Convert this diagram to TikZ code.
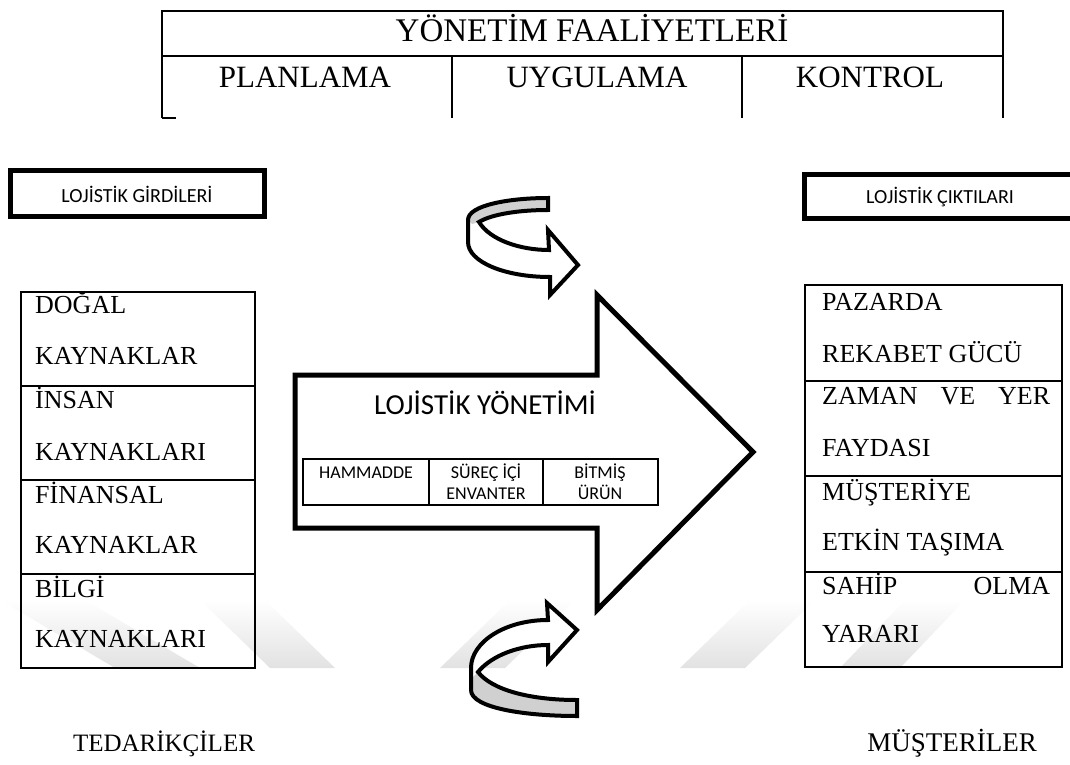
\documentclass[tikz,border=0pt]{standalone}
\usepackage{fontspec}
\setmainfont{Liberation Serif}
\newfontfamily\calibrifont{Carlito}
\usepackage{xcolor}
\usetikzlibrary{positioning,calc}
\definecolor{ink}{HTML}{000000}
\definecolor{bandgray}{HTML}{D0D0D0}
\definecolor{markgray}{HTML}{E2E2E2}
\tikzset{
  serifbig/.style={font=\fontsize{33}{33}\selectfont,inner sep=0pt,anchor=base},
  serifmid/.style={font=\fontsize{31}{31}\selectfont,inner sep=0pt,anchor=base},
  listtxt/.style={font=\fontsize{26}{26}\selectfont,inner sep=0pt,anchor=base west},
  sidetxt/.style={font=\fontsize{26}{26}\selectfont,inner sep=0pt,anchor=base},
  boxtxt/.style={font=\calibrifont\fontsize{20}{20}\selectfont,inner sep=0pt,anchor=base},
  celltxt/.style={font=\calibrifont\fontsize{18}{18}\selectfont,inner sep=0pt,anchor=base},
  gridline/.style={draw=ink,line width=2pt},
  heavybox/.style={draw=ink,line width=5pt},
  bigarrow/.style={draw=ink,fill=white,line width=5pt,line join=miter},
  turnarrow/.style={draw=ink,line width=4pt,line join=miter},
  wmark/.style={top color=white,bottom color=markgray,draw=none},
}

\begin{document}
\begin{tikzpicture}[x=1pt,y=-1pt]
  \useasboundingbox (0,0) rectangle (1070,765);

  % faint watermark
  \shade[wmark] (0,600) -- (85,600) -- (200,668) -- (115,668) -- cycle;
  \shade[wmark] (200,600) -- (265,600) -- (335,668) -- (270,668) -- cycle;
  \shade[wmark] (440,668) -- (505,668) -- (575,600) -- (510,600) -- cycle;
  \shade[wmark] (680,668) -- (745,668) -- (815,600) -- (750,600) -- cycle;
  \shade[wmark] (840,668) -- (900,668) -- (965,600) -- (905,600) -- cycle;

  % management table
  \draw[gridline] (162,118) -- (162,11) -- (1003,11) -- (1003,118);
  \draw[gridline] (162,56) -- (1003,56);
  \draw[gridline] (452,56) -- (452,118);
  \draw[gridline] (742,56) -- (742,118);
  \draw[gridline] (162,118) -- (176,118);
  \node[serifbig] (yonetim) at (592,42) {YÖNETİM FAALİYETLERİ};
  \node[serifmid] (planlama) at (305,88) {PLANLAMA};
  \node[serifmid] (uygulama) at (597,88) {UYGULAMA};
  \node[serifmid] (kontrol) at (870,88) {KONTROL};

  % input / output labels
  \draw[heavybox] (10.5,170.5) rectangle (264.5,216.5);
  \node[boxtxt] (girdi) at (137,202) {LOJİSTİK GİRDİLERİ};
  \draw[heavybox] (1075,174.5) -- (804.5,174.5) -- (804.5,218.5) -- (1075,218.5);
  \node[boxtxt] (cikti) at (940,203) {LOJİSTİK ÇIKTILARI};

  % resources
  \draw[gridline] (21,292) rectangle (255,668);
  \foreach \yy in {386,480,574} \draw[gridline] (21,\yy) -- (255,\yy);
  \node[listtxt] (dogal) at (35,313) {DOĞAL};
  \node[listtxt] (kaynakA) at (35,364) {KAYNAKLAR};
  \node[listtxt] (insan) at (35,408) {İNSAN};
  \node[listtxt] (kaynakB) at (35,460) {KAYNAKLARI};
  \node[listtxt] (finansal) at (35,503) {FİNANSAL};
  \node[listtxt] (kaynakC) at (35,553) {KAYNAKLAR};
  \node[listtxt] (bilgi) at (35,597) {BİLGİ};
  \node[listtxt] (kaynakD) at (35,647) {KAYNAKLARI};

  % outputs
  \draw[gridline] (805,285) rectangle (1062,667);
  \foreach \yy in {380.5,476,571.5} \draw[gridline] (805,\yy) -- (1062,\yy);
  \node[listtxt] (pazarda) at (822,310) {PAZARDA};
  \node[listtxt] (rekabet) at (822,362) {REKABET GÜCÜ};
  \node[listtxt] (zaman) at (822,404) {\hbox to 228pt{ZAMAN\hfill VE\hfill YER}};
  \node[listtxt] (fayda) at (822,456) {FAYDASI};
  \node[listtxt] (musteriye) at (822,500) {MÜŞTERİYE};
  \node[listtxt] (etkin) at (822,550) {ETKİN TAŞIMA};
  \node[listtxt] (sahip) at (822,594) {\hbox to 228pt{SAHİP\hfill OLMA}};
  \node[listtxt] (yarar) at (822,642) {YARARI};

  % big arrow
  \draw[bigarrow] (295,375) -- (597,375) -- (597,295) -- (753,452)
    -- (597,610) -- (597,528) -- (295,528) -- cycle;
  \node[font=\calibrifont\fontsize{29}{29}\selectfont,inner sep=0pt,anchor=base]
    (lojyon) at (485,414) {LOJİSTİK YÖNETİMİ};
  \draw[gridline] (303,459) rectangle (658,505);
  \draw[gridline] (429,459) -- (429,505);
  \draw[gridline] (543,459) -- (543,505);
  \node[celltxt] (hammadde) at (366,478) {HAMMADDE};
  \node[celltxt] (surec) at (486,478) {SÜREÇ İÇİ};
  \node[celltxt] (envanter) at (486,499) {ENVANTER};
  \node[celltxt] (bitmis) at (600,478) {BİTMİŞ};
  \node[celltxt] (urun) at (600,499) {ÜRÜN};

  % upper turning arrow
  \fill[white] (578,265) -- (548,230) -- (549,250) .. controls (520,250) and (490,240) .. (479,222)
    .. controls (492,214) and (520,210) .. (548,210) -- (548,198)
    .. controls (510,198) and (468,205) .. (468,220) -- (468,242)
    .. controls (468,262) and (505,277) .. (550,277) -- (550,295) -- cycle;
  \fill[bandgray] (479,222) .. controls (492,214) and (520,210) .. (548,210) -- (548,198)
    .. controls (510,198) and (468,205) .. (468,220) -- (472,224) -- cycle;
  \draw[turnarrow] (578,265) -- (548,230) -- (549,250) .. controls (520,250) and (490,240) .. (479,222)
    .. controls (492,214) and (520,210) .. (548,210) -- (548,198)
    .. controls (510,198) and (468,205) .. (468,220) -- (468,242)
    .. controls (468,262) and (505,277) .. (550,277) -- (550,295) -- cycle;

  % lower turning arrow
  \fill[white] (577,630) -- (547,603) -- (548,620) .. controls (505,620) and (471,642) .. (471,668)
    -- (471,690) .. controls (471,708) and (525,716) .. (577,716) -- (577,700)
    .. controls (530,700) and (492,690) .. (478,672)
    .. controls (492,655) and (520,645) .. (548,645) -- (548,662) -- cycle;
  \fill[bandgray] (478,672) -- (471,679) -- (471,690) .. controls (471,708) and (525,716) .. (577,716)
    -- (577,700) .. controls (530,700) and (492,690) .. (478,672) -- cycle;
  \draw[turnarrow] (577,630) -- (547,603) -- (548,620) .. controls (505,620) and (471,642) .. (471,668)
    -- (471,690) .. controls (471,708) and (525,716) .. (577,716) -- (577,700)
    .. controls (530,700) and (492,690) .. (478,672)
    .. controls (492,655) and (520,645) .. (548,645) -- (548,662) -- cycle;

  % ends of the chain
  \node[sidetxt,font=\fontsize{25}{25}\selectfont] (tedarik) at (164,751) {TEDARİKÇİLER};
  \node[sidetxt,font=\fontsize{27}{27}\selectfont] (musteri) at (952,751) {MÜŞTERİLER};
\end{tikzpicture}
\end{document}
